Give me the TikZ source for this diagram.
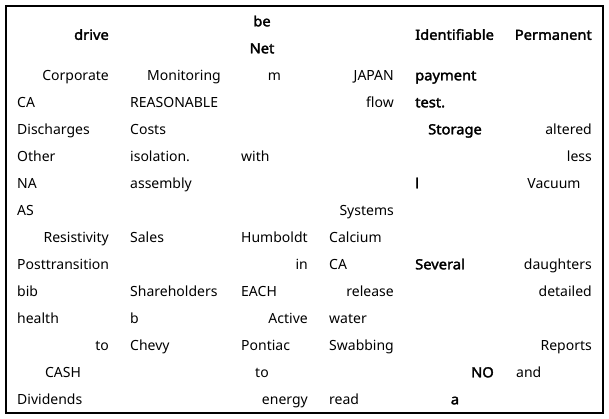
\documentclass[tikz,border=0pt]{standalone}
\usepackage{fontspec}
\setmainfont{Noto Sans}
\newfontfamily\boldsans[FakeBold=2.2,FakeStretch=1.05]{Noto Sans}
\begin{document}
\begin{tikzpicture}[x=1pt,y=-1pt,
  cell/.style={inner sep=0pt, text=black, font=\fontsize{14}{17}\selectfont},
  bcell/.style={inner sep=0pt, text=black, font=\boldsans\fontsize{14}{17}\selectfont},
  L/.style={anchor=base west},
  R/.style={anchor=base east},
  C/.style={anchor=base}]
\useasboundingbox (0,0) rectangle (609,419);
\draw[line width=2pt] (5.7,5.7) rectangle (602.7,412.7);
% header
\node[bcell,R] (h1) at (109,39.8) {drive};
\node[bcell,C] (h3a) at (262,26.3) {be};
\node[bcell,C] (h3b) at (262,53.3) {Net};
\node[bcell,L] (h5) at (415,39.8) {Identifiable};
\node[bcell,R] (h6) at (592,39.8) {Permanent};
% line 2
\node[cell,R] (a1) at (109,80.3) {Corporate};
\node[cell,R] (a2) at (221,80.3) {Monitoring};
\node[cell,C] (a3) at (274.5,80.3) {m};
\node[cell,R] (a4) at (394,80.3) {JAPAN};
\node[bcell,L] (a5) at (415,80.3) {payment};
% line 3
\node[cell,L] (b1) at (17,107.3) {CA};
\node[cell,L] (b2) at (130,107.3) {REASONABLE};
\node[cell,R] (b4) at (394,107.3) {flow};
\node[bcell,L] (b5) at (415,107.3) {test.};
% line 4
\node[cell,L] (c1) at (17,134.3) {Discharges};
\node[cell,L] (c2) at (130,134.3) {Costs};
\node[bcell,C] (c5) at (455,134.3) {Storage};
\node[cell,R] (c6) at (592,134.3) {altered};
% line 5
\node[cell,L] (d1) at (17,161.3) {Other};
\node[cell,L] (d2) at (130,161.3) {isolation.};
\node[cell,L] (d3) at (241,161.3) {with};
\node[cell,R] (d6) at (592,161.3) {less};
% line 6
\node[cell,L] (e1) at (17,188.3) {NA};
\node[cell,L] (e2) at (130,188.3) {assembly};
\node[bcell,L] (e5) at (415,188.3) {l};
\node[cell,C] (e6) at (554,188.3) {Vacuum};
% line 7
\node[cell,L] (f1) at (17,215.3) {AS};
\node[cell,R] (f4) at (394,215.3) {Systems};
% line 8
\node[cell,R] (g1) at (109,242.3) {Resistivity};
\node[cell,L] (g2) at (130,242.3) {Sales};
\node[cell,L] (g3) at (241,242.3) {Humboldt};
\node[cell,L] (g4) at (329,242.3) {Calcium};
% line 9
\node[cell,L] (i1) at (17,269.3) {Posttransition};
\node[cell,R] (i3) at (308,269.3) {in};
\node[cell,L] (i4) at (329,269.3) {CA};
\node[bcell,L] (i5) at (415,269.3) {Several};
\node[cell,R] (i6) at (592,269.3) {daughters};
% line 10
\node[cell,L] (j1) at (17,296.3) {bib};
\node[cell,L] (j2) at (130,296.3) {Shareholders};
\node[cell,L] (j3) at (241,296.3) {EACH};
\node[cell,R] (j4) at (394,296.3) {release};
\node[cell,R] (j6) at (592,296.3) {detailed};
% line 11
\node[cell,L] (k1) at (17,323.3) {health};
\node[cell,L] (k2) at (130,323.3) {b};
\node[cell,R] (k3) at (308,323.3) {Active};
\node[cell,L] (k4) at (329,323.3) {water};
% line 12
\node[cell,R] (m1) at (109,350.3) {to};
\node[cell,L] (m2) at (130,350.3) {Chevy};
\node[cell,L] (m3) at (241,350.3) {Pontiac};
\node[cell,L] (m4) at (329,350.3) {Swabbing};
\node[cell,R] (m6) at (592,350.3) {Reports};
% line 13
\node[cell,C] (n1) at (63,377.3) {CASH};
\node[cell,C] (n3) at (262,377.3) {to};
\node[bcell,R] (n5) at (494,377.3) {NO};
\node[cell,L] (n6) at (516,377.3) {and};
% line 14
\node[cell,L] (o1) at (17,404.3) {Dividends};
\node[cell,R] (o3) at (308,404.3) {energy};
\node[cell,L] (o4) at (329,404.3) {read};
\node[bcell,C] (o5) at (455,404.3) {a};
\end{tikzpicture}
\end{document}
